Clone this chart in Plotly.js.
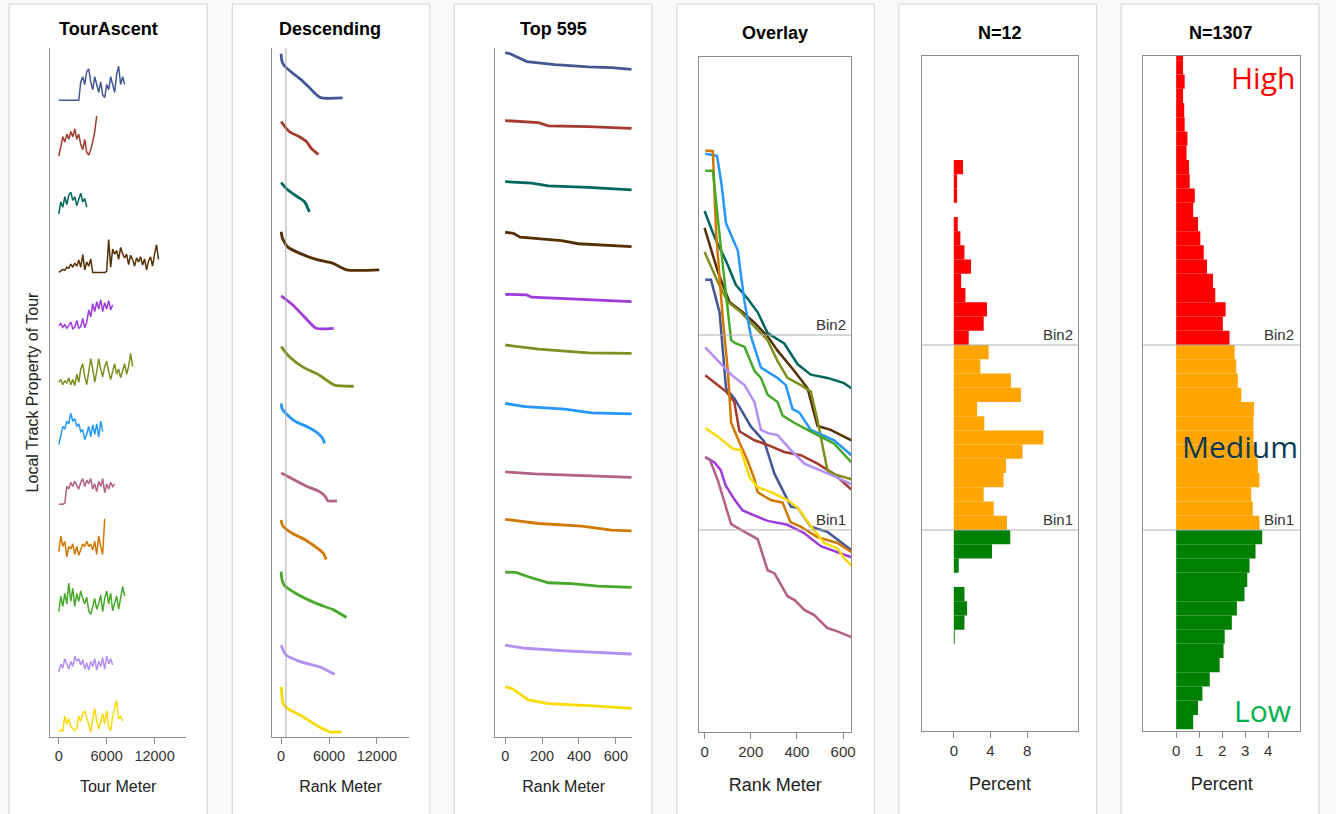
<!DOCTYPE html>
<html><head><meta charset="utf-8">
<script src="https://cdn.plot.ly/plotly-3.0.1.min.js"></script>
<style>html,body{margin:0;padding:0;background:#f9f9f9;} #chart{width:1336px;height:814px;}</style>
</head><body><div id="chart"></div>
<script>
// ---------------- DATA ----------------
const tourColors = ['#445694','#A23A2E','#01665E','#543005','#9D3CDB','#7F8E1F','#2597FA','#B26084','#D17800','#47A82A','#B38EF3','#F9DA04'];
const panelTitles = ['TourAscent','Descending','Top 595','Overlay','N=12','N=1307'];
const tourTicks = [0, 6000, 12000];
const rankTicks = [0, 200, 400, 600];
const percentTicks12 = [0, 4, 8];
const percentTicks1307 = [0, 1, 2, 3, 4];
const topMeters = 595;
const bin1 = 0.30, bin2 = 0.60;

// TourAscent: local track property sampled every tourStep metres along each tour
const tourStep = 250;
const tourAscent = [
  [0,0,0,0,0,0,0,0,0,0,0,3.5,4.5,3,5.5,6,3.5,2,4.5,3,1.5,3.5,1,0.5,3,2,4.5,3,1.5,5,6.5,3,4.5,3],
  [0.3,2.5,4,3,4.5,3.5,5,4,5.5,3.5,4.5,2.5,1.5,3.5,1,0.5,1.5,3,5,8],
  [0.2,2.5,1.5,3.5,2,3.8,4.4,2.8,3.5,1.8,3,4.2,2.5,3.2,1.5],
  [0,0.3,0.6,0.4,1,0.8,1.6,1,1.8,1.2,2.4,1,3.4,0.5,2,1.2,2.6,0,0,0,0,0,0,0,0.2,6.3,1,4.5,3.5,4.2,2.5,4.8,3.6,2.8,3.5,1.5,3.3,2.5,1.2,2.8,2,3,1.4,2.6,0.5,2.2,3,1.2,3.5,5.3,2.5],
  [0.8,1.2,0.5,1,0.3,0.8,1.5,0.2,0.5,1.8,0.3,0.6,2.2,0.4,1.5,3.8,2.5,5,3.5,5.4,4,5.8,3.5,5.2,4,5.6,3.8,4.8],
  [1,1.5,0.5,1.2,0.8,1.8,0.5,1.5,0.3,2.5,1,3.5,4.5,2,0.5,3.5,5.5,3.5,1,3,5.5,3.5,2,4,5,3,1.5,3,4.5,2.5,3.5,1.8,3,4.5,2.5,4,6.5,4],
  [0,2,3.5,3,4.5,4,6,4.5,5,3.5,4,2.5,2.8,1,2,3.5,1.5,3.8,2,4,1.5,4.5,2.5],
  [-0.4,-0.4,-0.4,-0.2,3,2.5,3.8,3,4,3.2,2.5,3.8,4.5,3,4.2,3.5,4.5,2.5,3.5,2,4,3,4.5,1.8,3.5,2.5,3.8,3,3.5],
  [1.5,4.5,2.5,3.5,0.5,2.5,2,3,1,2.5,0.8,2,3,2.5,3.5,2.5,3,1.8,3.5,1,4.5,2.5,1,7.8],
  [1,4,2,4.5,2.5,6.5,3,5.5,2,4.5,3,5,3.5,2.5,3.8,1.2,0.5,2,3.5,1.5,2.5,4.2,1,3.5,5,2.5,4.5,1.2,2.5,4,1.5,3.5,5.8,4],
  [0.5,2,1.2,3,2,1,2.5,1.5,3.5,2.5,3,1.8,2.8,1,2.2,0.8,2.5,1.5,3,0.8,2.5,1.5,3.2,1,3.5,2,3,1.8],
  [0,0.3,0.2,3,1.5,2.5,1,0.5,0.2,0.8,3,2,3.5,4,2.5,1,0,2.5,4.5,2,0.5,2,3.5,1.5,4,1,0.2,3,4.5,6,2.5,3,2]
];

// Descending: values sorted high to low against rank metre
const descendingMeters = [
  [0,80,400,1270,2530,3800,4930,7700],
  [0,1000,2280,3160,3760,4680],
  [0,760,2030,2910,3540],
  [0,150,380,800,2280,4390,6500,8190,12300],
  [0,1430,2900,4390,6580],
  [0,1000,2700,4800,6700,9100],
  [0,150,600,1860,3330,4600,5200,5440],
  [0,1220,3100,4810,5570,5860,7000],
  [0,150,500,1430,3100,4600,5300,5650],
  [0,100,380,1860,4390,6500,8190],
  [0,600,2500,4810,6080,6700],
  [0,100,250,800,2700,4810,6080,7550]
];
const descendingValues = [
  [8.9,7.6,6.6,5.4,3.9,2.0,0.5,0.45],
  [6.9,5,4,3.1,1.8,0.6],
  [6.2,4.9,3.5,2.6,0.6],
  [7.8,6.6,5.9,4.9,3.7,2.5,1.75,0.5,0.5],
  [6.5,4.8,2.5,0.3,0.3],
  [7.8,5.9,3.9,2.3,0.4,0.2],
  [7.9,6.8,6,4.4,3.4,2.2,1.2,0.25],
  [5.6,4.6,3.1,2,1,0.25,0.25],
  [7.6,6.6,6,5,3.7,2.1,1.2,0],
  [8.7,7.2,6.1,4.5,2.6,1.4,-0.1],
  [5.6,3.7,2.4,1.45,0.5,0],
  [8.6,7,5.4,4.5,2.9,0.9,0,0]
];

// Top 595: first metres of the descending curves
const top595Meters = [
  [0,27,117,270,450,576,685],
  [0,180,234,450,685],
  [0,144,234,450,685],
  [0,45,81,306,396,685],
  [0,117,144,685],
  [0,180,450,685],
  [0,108,324,468,685],
  [0,162,685],
  [0,180,414,576,685],
  [0,63,126,234,360,504,685],
  [0,108,324,685],
  [0,36,126,234,450,685]
];
const top595Values = [
  [9.1,8.9,7.4,6.8,6.4,6.25,5.9],
  [7.1,6.7,6.1,5.95,5.6],
  [6.4,6.1,5.6,5.3,4.8],
  [7.7,7.5,6.75,6.1,5.5,4.95],
  [6.8,6.7,6.25,5.4],
  [8.1,7.3,6.6,6.5],
  [7.9,7.3,6.8,6.1,5.9],
  [5.8,5.4,4.75],
  [7.7,6.9,6.4,5.65,5.5],
  [8.6,8.5,7.7,6.55,6.4,5.9,5.65],
  [5.6,5.0,4.5,3.9],
  [8.6,8.3,6.1,5.4,5.0,4.5]
];

// Overlay: all tours on a common property scale
const overlayMeters = [
  [3,28,65,93,130,201,259,302,374,403,460,532,636],
  [3,57,93,129,151,216,273,345,417,489,561,636],
  [0,43,93,136,187,230,273,345,403,460,532,604,636],
  [0,57,108,165,216,273,316,388,446,489,546,636],
  [3,43,70,92,131,165,230,273,359,432,503,575,636],
  [0,57,101,158,216,273,316,359,417,460,489,532,561,636],
  [3,54,72,93,144,173,201,244,316,352,381,410,460,561,636],
  [3,23,57,115,158,230,273,303,359,390,432,475,532,575,636],
  [3,36,50,79,101,115,152,187,217,230,286,338,372,416,489,575,636],
  [3,36,72,101,115,135,173,216,244,273,316,338,388,446,503,561,636],
  [3,57,115,173,216,244,273,316,374,432,503,561,636],
  [3,57,122,157,196,230,295,359,403,460,518,575,604,636]
];
const overlayValues = [
  [0.685,0.685,0.635,0.518,0.502,0.459,0.436,0.387,0.336,0.334,0.305,0.297,0.269],
  [0.538,0.523,0.513,0.497,0.452,0.438,0.431,0.42,0.415,0.402,0.386,0.362],
  [0.791,0.751,0.714,0.677,0.656,0.635,0.603,0.587,0.555,0.539,0.534,0.526,0.518],
  [0.765,0.698,0.651,0.635,0.619,0.598,0.576,0.545,0.518,0.46,0.454,0.438],
  [0.412,0.404,0.392,0.368,0.346,0.33,0.32,0.314,0.308,0.295,0.275,0.266,0.258],
  [0.728,0.682,0.651,0.635,0.613,0.592,0.56,0.534,0.523,0.513,0.469,0.392,0.386,0.378],
  [0.879,0.876,0.836,0.772,0.73,0.651,0.598,0.55,0.534,0.523,0.486,0.481,0.454,0.438,0.415],
  [0.412,0.408,0.377,0.309,0.3,0.286,0.238,0.233,0.198,0.192,0.177,0.169,0.149,0.144,0.135],
  [0.884,0.883,0.757,0.625,0.545,0.465,0.434,0.406,0.377,0.358,0.346,0.342,0.312,0.305,0.289,0.28,0.266],
  [0.853,0.853,0.73,0.64,0.592,0.587,0.582,0.545,0.534,0.508,0.497,0.476,0.465,0.454,0.444,0.433,0.404],
  [0.581,0.56,0.539,0.523,0.497,0.454,0.449,0.446,0.423,0.402,0.391,0.383,0.37],
  [0.457,0.444,0.425,0.423,0.38,0.366,0.357,0.346,0.334,0.306,0.28,0.272,0.257,0.245]
];

// Histograms (percent per bin, from the lowest bin upward)
const n12Low = [0,0,0,0,0,0,0.1,1.16,1.45,1.16,0,0.54,4.17,6.16];
const n12Medium = [5.8,4.35,3.26,5.43,5.69,7.5,9.78,3.33,2.54,7.32,6.23,2.9,3.8];
const n12High = [1.63,3.26,3.62,1.27,0.8,1.88,1.16,0.72,0.43,0,0.36,0.36,1.01,0,0,0,0,0,0,0,0];
const n1307Low = [0.74,0.95,1.14,1.46,1.89,2.06,2.11,2.42,2.64,2.97,3.09,3.19,3.45,3.74];
const n1307Medium = [3.62,3.33,3.26,3.62,3.55,3.48,3.36,3.36,3.38,2.83,2.68,2.61,2.54];
const n1307High = [2.32,2.03,2.15,1.70,1.60,1.34,1.20,1.05,0.95,0.74,0.81,0.59,0.56,0.45,0.49,0.37,0.35,0.30,0.37,0.30,0.30];

// ---------------- LAYOUT ----------------
const W = 1336, H = 814;
const fx = p => p / W;
const fy = p => 1 - p / H;
const FONT = '"Liberation Sans", Arial, sans-serif';
const AX = '#8c8c8c';
const TXT = '#333333';

const traces = [];
const layout = {
  width: W, height: H, margin: {l:0, r:0, t:0, b:0},
  paper_bgcolor: '#f9f9f9', plot_bgcolor: 'rgba(0,0,0,0)',
  showlegend: false, barmode: 'overlay',
  font: {family: FONT, color: TXT},
  shapes: [], annotations: []
};

// panel frames
const frames = [[9,208],[233,431],[455.5,654],[679,877],[901.5,1100],[1124.5,1323]];
frames.forEach(([a,b]) => layout.shapes.push({type:'rect', xref:'paper', yref:'paper',
  x0: fx(a), x1: fx(b), y0: fy(830), y1: fy(4), fillcolor:'#ffffff',
  line:{color:'#d3d3d3', width:1}, layer:'below'}));

function xAxis(dom, range, ticks, title, tickSize, titleSize, mirror, anchor, standoff) {
  return {domain:[fx(dom[0]), fx(dom[1])], range, anchor, tickvals: ticks, tickformat:'d',
    ticks:'outside', ticklen:6, tickcolor:AX, showline:true, linecolor:AX, linewidth:1,
    mirror, showgrid:false, zeroline:false, fixedrange:true, automargin:true,
    tickfont:{size:tickSize, color:TXT, family:FONT},
    title:{text:title, font:{size:titleSize, color:'#222', family:FONT}, standoff}};
}
function yBase(dom, range, anchor, mirror) {
  return {domain:[fy(dom[1]), fy(dom[0])], range, anchor, showline:true, linecolor:AX,
    linewidth:1, mirror, showticklabels:false, ticks:'', showgrid:false, zeroline:false, fixedrange:true};
}

const tourRange = [-1125, 16000];
layout.xaxis  = xAxis([50,187], tourRange, tourTicks, 'Tour Meter', 14.5, 16, false, 'y', 17);
layout.xaxis2 = xAxis([273,410], tourRange, tourTicks, 'Rank Meter', 14.5, 16, false, 'y2', 17);
layout.xaxis3 = xAxis([496.7,634], [-54, 688], rankTicks, 'Rank Meter', 14.5, 16, false, 'y3', 17);
layout.xaxis4 = xAxis([701,854], [-24.5, 636], rankTicks, 'Rank Meter', 15, 18, true, 'y4', 19);
layout.xaxis5 = xAxis([924.3,1081.7], [-3.52, 13.6], percentTicks12, 'Percent', 15, 18, true, 'y5', 19);
layout.xaxis6 = xAxis([1146.7,1304.3], [-1.43, 5.4], percentTicks1307, 'Percent', 15, 18, true, 'y6', 19);

layout.yaxis  = yBase([48,737], [0,1], 'x', false);
layout.yaxis.automargin = true;
layout.yaxis.title = {text:'Local Track Property of Tour', font:{size:16, color:'#222', family:FONT}, standoff:6};
layout.yaxis2 = yBase([48,737], [0,1], 'x2', false);
layout.yaxis3 = yBase([48,737], [0,1], 'x3', false);
layout.yaxis4 = yBase([57,732], [-0.011, 1.028], 'x4', true);
layout.yaxis5 = yBase([56,731], [-0.0259, 1.0686], 'x5', true);
layout.yaxis6 = yBase([56,731], [-0.0259, 1.0686], 'x6', true);

// placeholder traces so the base subplots of panels 1-3 are drawn
['', '2', '3'].forEach(s => traces.push({type:'scatter', mode:'lines', x:[], y:[], xaxis:'x'+s, yaxis:'y'+s, hoverinfo:'skip'}));

// stacked row axes for panels 1-3
const rowTop = 48, rowH = (737 - 48) / 12;
const panelX = ['x', 'x2', 'x3'];
for (let p = 0; p < 3; p++) {
  for (let r = 0; r < 12; r++) {
    const id = 7 + p * 12 + r;
    layout['yaxis' + id] = {domain:[fy(rowTop + (r + 1) * rowH), fy(rowTop + r * rowH)],
      range:[-1, 10], anchor: panelX[p], visible:false, fixedrange:true};
  }
}

// Panel 1: TourAscent
tourAscent.forEach((vals, r) => traces.push({type:'scatter', mode:'lines',
  x: vals.map((_, i) => i * tourStep), y: vals, xaxis:'x', yaxis:'y' + (7 + r),
  line:{color: tourColors[r], width:1.5}, hoverinfo:'skip'}));
// Panel 2: Descending
descendingValues.forEach((vals, r) => traces.push({type:'scatter', mode:'lines',
  x: descendingMeters[r], y: vals, xaxis:'x2', yaxis:'y' + (19 + r),
  line:{color: tourColors[r], width:2.8, shape:'spline', smoothing:0.6}, hoverinfo:'skip'}));
// Panel 3: Top 595
top595Values.forEach((vals, r) => traces.push({type:'scatter', mode:'lines',
  x: top595Meters[r], y: vals, xaxis:'x3', yaxis:'y' + (31 + r),
  line:{color: tourColors[r], width:2.8}, hoverinfo:'skip'}));
// Panel 4: Overlay
overlayValues.forEach((vals, r) => traces.push({type:'scatter', mode:'lines',
  x: overlayMeters[r], y: vals, xaxis:'x4', yaxis:'y4',
  line:{color: tourColors[r], width:2.5}, hoverinfo:'skip'}));

// Panels 5-6: histograms
function histTraces(low, med, high, xa, ya) {
  const w = (bin2 - bin1) / med.length;
  const lowStart = bin1 - low.length * w;
  [[low, lowStart, '#008000'], [med, bin1, '#FFA500'], [high, bin2, '#FF0000']].forEach(([vals, start, color]) => {
    traces.push({type:'bar', orientation:'h', x: vals, y: vals.map((_, i) => start + (i + 0.5) * w),
      width: w, xaxis: xa, yaxis: ya, marker:{color, line:{width:0}}, hoverinfo:'skip'});
  });
}
histTraces(n12Low, n12Medium, n12High, 'x5', 'y5');
histTraces(n1307Low, n1307Medium, n1307High, 'x6', 'y6');

// reference line at the Top-595 rank meter (panel 2)
layout.shapes.push({type:'line', xref:'x2', yref:'y2 domain', x0: topMeters, x1: topMeters, y0:0, y1:1,
  line:{color:'#a8a8a8', width:1}});

// Bin lines and labels (panels 4-6)
['4','5','6'].forEach(n => {
  [[bin2,'Bin2'],[bin1,'Bin1']].forEach(([v, label]) => {
    layout.shapes.push({type:'line', xref:'x' + n + ' domain', yref:'y' + n, x0:0, x1:1, y0:v, y1:v,
      line:{color:'#b0b0b0', width:1}});
    layout.annotations.push({xref:'x' + n + ' domain', yref:'y' + n, x:0.975, y:v, xanchor:'right', yanchor:'bottom',
      text: label, showarrow:false, font:{size:15, color:TXT, family:FONT}});
  });
});

// Panel titles
const titlePos = [[109,29],[331,29],[555,29],[777,33],[1003,33],[1225,33]];
panelTitles.forEach((t, i) => layout.annotations.push({xref:'paper', yref:'paper',
  x: fx(titlePos[i][0]), y: fy(titlePos[i][1]), xanchor:'center', yanchor:'middle',
  text:'<b>' + t + '</b>', showarrow:false, font:{size:18, color:'#000', family:FONT}}));

// Level labels
const levelLabels = [['High','#FF0000',1267,77],['Medium','#0B3954',1244,447],['Low','#00B050',1266,710]];
levelLabels.forEach(([t, c, x, y]) => layout.annotations.push({xref:'paper', yref:'paper',
  x: fx(x), y: fy(y), xanchor:'center', yanchor:'middle', text:t, showarrow:false,
  font:{size:30, color:c, family:'"Open Sans", "Noto Sans", sans-serif'}}));

Plotly.newPlot('chart', traces, layout, {displayModeBar:false, staticPlot:true});
</script></body></html>
